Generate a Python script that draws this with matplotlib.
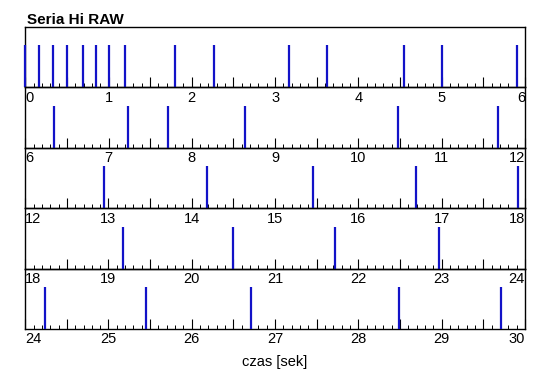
import matplotlib
matplotlib.use("Agg")
import matplotlib.pyplot as plt
import numpy as np

plt.rcParams['font.family'] = ['Liberation Sans', 'DejaVu Sans']

# czasy zdarzen [s]
czasy = [0.0, 0.16, 0.33, 0.50, 0.69, 0.85, 1.01, 1.20, 1.80, 2.27,
         3.17, 3.62, 4.55, 5.00, 5.90,
         6.35, 7.24, 7.72, 8.64, 10.47, 11.68,
         12.95, 14.18, 15.45, 16.69, 17.92,
         19.17, 20.49, 21.72, 22.97,
         24.24, 25.45, 26.71, 28.49, 29.71]

# poczatki kolejnych pasow (kazdy po 6 s)
poczatki = [0, 6, 12, 18, 24]
dlugosc = 6

tytul = "Seria Hi RAW"
opis_x = "czas [sek]"

fig = plt.figure(figsize=(5.5, 3.89), dpi=100)
lewo = 25.2 / 550
prawo = 525 / 550
gora = 1 - 27 / 389
dol = 1 - 329 / 389
h = (gora - dol) / len(poczatki)

for i, p in enumerate(poczatki):
    ax = fig.add_axes([lewo, gora - (i + 1) * h, prawo - lewo, h])
    ax.set_facecolor('none')
    # tylko zdarzenia z danego pasa
    t = [c for c in czasy if p <= c < p + dlugosc]
    ax.vlines(t, 0, 1, color='#1212c8', lw=1.6, clip_on=False, zorder=3)
    ax.set_xlim(p, p + dlugosc)
    ax.set_ylim(0, 1.44)
    ax.set_yticks([])

    glowne = np.arange(p, p + dlugosc + 0.01, 0.5)
    etykiety = [str(int(v)) if v == int(v) else '' for v in glowne]
    ax.set_xticks(glowne, etykiety)
    ax.set_xticks(np.arange(p, p + dlugosc + 0.01, 0.1), minor=True)
    ax.tick_params(axis='x', which='major', direction='in', length=7,
                   width=0.8, pad=2.5, labelsize=10.5)
    ax.tick_params(axis='x', which='minor', direction='in', length=3,
                   width=0.7)
    ticki = ax.xaxis.get_major_ticks()
    ticki[0].label1.set_horizontalalignment('left')
    ticki[-1].label1.set_horizontalalignment('right')
    for s in ax.spines.values():
        s.set_linewidth(1.0)

fig.text(27 / 550, 1 - 24 / 389, tytul, fontsize=11, fontweight='bold',
         ha='left', va='baseline')
fig.text((lewo + prawo) / 2, 1 - 362 / 389, opis_x, fontsize=10.5,
         ha='center', va='center')

fig.savefig("out.png", dpi=100)
